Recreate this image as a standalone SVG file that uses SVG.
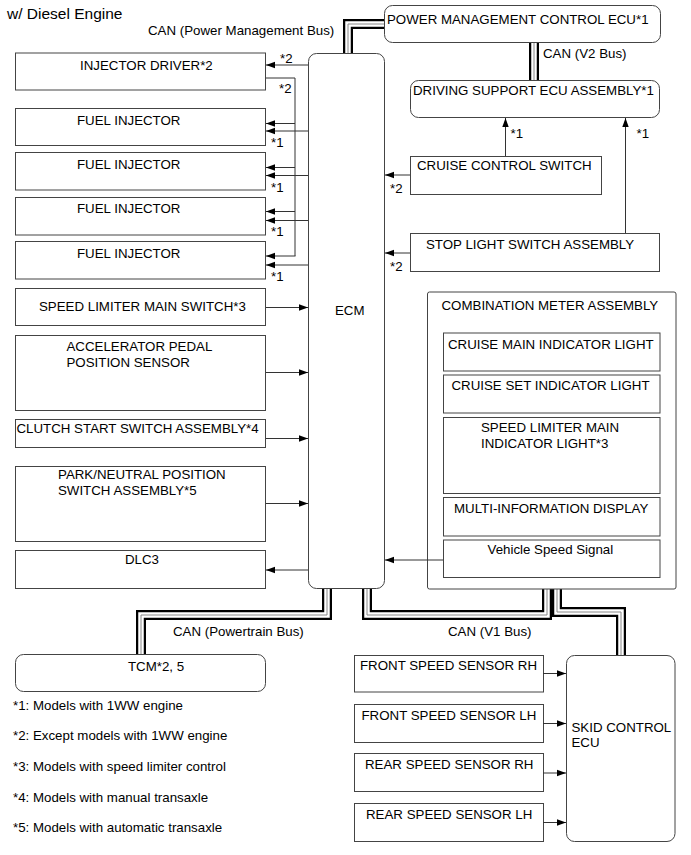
<svg xmlns="http://www.w3.org/2000/svg" width="691" height="855" viewBox="0 0 691 855">
<defs>
<marker id="ah" markerUnits="userSpaceOnUse" markerWidth="10" markerHeight="8" refX="9" refY="4" orient="auto">
<path d="M0,0.8 L9,4 L0,7.2 Z" fill="#000"/>
</marker>
<style>
text{font-family:"Liberation Sans",Arial,sans-serif;font-size:13.3px;fill:#000}
.title{font-size:15.5px}
.box{fill:#fff;stroke:#444;stroke-width:1}
.ln{fill:none;stroke:#333;stroke-width:1}
.ar{fill:none;stroke:#333;stroke-width:1;marker-end:url(#ah)}
.b1{fill:none;stroke:#000;stroke-width:10}
.b2{fill:none;stroke:#fff;stroke-width:5.5}
.b3{fill:none;stroke:#888;stroke-width:1}
</style>
</defs>
<rect width="691" height="855" fill="#fff"/>
<text class="title" x="7" y="19">w/ Diesel Engine</text>

<g id="buses">
<g id="bus-pm"><polyline class="b1" points="348,56 348,24 386,24"/><polyline class="b2" points="348,56 348,24 386,24"/><polyline class="b3" points="348,56 348,24 386,24"/></g>
<g id="bus-v2"><polyline class="b1" points="534,41 534,82"/><polyline class="b2" points="534,41 534,82"/><polyline class="b3" points="534,41 534,82"/></g>
<g id="bus-pt"><polyline class="b1" points="327,586 327,615 141,615 141,656"/><polyline class="b2" points="327,586 327,615 141,615 141,656"/><polyline class="b3" points="327,586 327,615 141,615 141,656"/></g>
<g id="bus-v1a"><polyline class="b1" points="367,586 367,615 547,615 547,588"/><polyline class="b2" points="367,586 367,615 547,615 547,588"/><polyline class="b3" points="367,586 367,615 547,615 547,588"/></g>
<g id="bus-v1b"><polyline class="b1" points="557,588 557,612 621,612 621,657"/><polyline class="b2" points="557,588 557,612 621,612 621,657"/><polyline class="b3" points="557,588 557,612 621,612 621,657"/></g>
</g>

<text x="148" y="35">CAN (Power Management Bus)</text>
<text x="543" y="58">CAN (V2 Bus)</text>
<text x="173" y="636">CAN (Powertrain Bus)</text>
<text x="448" y="636">CAN (V1 Bus)</text>

<g id="ecm"><rect class="box" x="308.5" y="53.5" width="76" height="535" rx="8"/><text x="335" y="315">ECM</text></g>

<g id="pm-ecu"><rect class="box" x="384.5" y="5.5" width="276" height="37" rx="8"/><text x="387" y="24">POWER MANAGEMENT CONTROL ECU*1</text></g>
<g id="ds-ecu"><rect class="box" x="410.5" y="80.5" width="249" height="37" rx="8"/><text x="413" y="94.5">DRIVING SUPPORT ECU ASSEMBLY*1</text></g>
<g id="cruise-sw"><rect class="box" x="410.5" y="156.5" width="191" height="38"/><text x="417" y="170">CRUISE CONTROL SWITCH</text></g>
<g id="stop-sw"><rect class="box" x="410.5" y="233.5" width="249" height="38"/><text x="426" y="248.5">STOP LIGHT SWITCH ASSEMBLY</text></g>

<g id="inj-drv"><rect class="box" x="15.5" y="53" width="250" height="37"/><text x="80" y="70">INJECTOR DRIVER*2</text></g>
<g id="inj1"><rect class="box" x="15.5" y="108.5" width="250" height="37"/><text x="77" y="125">FUEL INJECTOR</text></g>
<g id="inj2"><rect class="box" x="15.5" y="152.5" width="250" height="37.5"/><text x="77" y="169">FUEL INJECTOR</text></g>
<g id="inj3"><rect class="box" x="15.5" y="197.5" width="250" height="37.5"/><text x="77" y="213">FUEL INJECTOR</text></g>
<g id="inj4"><rect class="box" x="15.5" y="241.5" width="250" height="37.5"/><text x="77" y="258">FUEL INJECTOR</text></g>
<g id="spd-lim-sw"><rect class="box" x="15.5" y="288.5" width="250" height="37"/><text x="39" y="310.5">SPEED LIMITER MAIN SWITCH*3</text></g>
<g id="accel"><rect class="box" x="15.5" y="335.5" width="250" height="75"/><text x="66.5" y="350.5">ACCELERATOR PEDAL</text><text x="66.5" y="366.5">POSITION SENSOR</text></g>
<g id="clutch"><rect class="box" x="15.5" y="419.5" width="250" height="28"/><text x="16.5" y="433">CLUTCH START SWITCH ASSEMBLY*4</text></g>
<g id="pnp"><rect class="box" x="15.5" y="466.5" width="250" height="75"/><text x="58" y="479">PARK/NEUTRAL POSITION</text><text x="58" y="495">SWITCH ASSEMBLY*5</text></g>
<g id="dlc3"><rect class="box" x="15.5" y="550.5" width="250" height="38"/><text x="125" y="563.5">DLC3</text></g>

<g id="meter"><rect class="box" x="427.5" y="292" width="248.5" height="297" rx="2"/><text x="441.5" y="309.5">COMBINATION METER ASSEMBLY</text>
<rect class="box" x="443.5" y="333" width="216.5" height="38"/><text x="448" y="348.5">CRUISE MAIN INDICATOR LIGHT</text>
<rect class="box" x="443.5" y="375" width="216.5" height="38"/><text x="451.5" y="390">CRUISE SET INDICATOR LIGHT</text>
<rect class="box" x="443.5" y="417.5" width="216.5" height="76"/><text x="481" y="431.5">SPEED LIMITER MAIN</text><text x="481" y="448">INDICATOR LIGHT*3</text>
<rect class="box" x="443.5" y="497.5" width="216.5" height="38.5"/><text x="454" y="512.5">MULTI-INFORMATION DISPLAY</text>
<rect class="box" x="443.5" y="540" width="216.5" height="37.5"/><text x="487.5" y="554">Vehicle Speed Signal</text>
</g>

<g id="tcm"><rect class="box" x="15.5" y="654.5" width="250" height="37" rx="8"/><text x="128" y="670.5">TCM*2, 5</text></g>
<g id="skid"><rect class="box" x="566.5" y="655.5" width="108.5" height="186" rx="8"/><text x="571.5" y="731.5">SKID CONTROL</text><text x="571.5" y="746.5">ECU</text></g>
<g id="fr-rh"><rect class="box" x="354.5" y="655.5" width="189" height="36.5"/><text x="360" y="670">FRONT SPEED SENSOR RH</text></g>
<g id="fr-lh"><rect class="box" x="354.5" y="704.5" width="189" height="38"/><text x="361.5" y="719.5">FRONT SPEED SENSOR LH</text></g>
<g id="rr-rh"><rect class="box" x="354.5" y="753.5" width="189" height="38"/><text x="365" y="769">REAR SPEED SENSOR RH</text></g>
<g id="rr-lh"><rect class="box" x="354.5" y="803.5" width="189" height="38"/><text x="366" y="819">REAR SPEED SENSOR LH</text></g>

<g id="connectors">
<line class="ar" x1="308" y1="65" x2="266" y2="65"/>
<polyline class="ln" points="266,78 295,78 295,256"/>
<line class="ar" x1="295" y1="123.5" x2="266" y2="123.5"/>
<line class="ar" x1="295" y1="167.5" x2="266" y2="167.5"/>
<line class="ar" x1="295" y1="211.5" x2="266" y2="211.5"/>
<line class="ar" x1="295.5" y1="256" x2="266" y2="256"/>
<line class="ar" x1="308" y1="131" x2="266" y2="131"/>
<line class="ar" x1="308" y1="175.5" x2="266" y2="175.5"/>
<line class="ar" x1="308" y1="220.5" x2="266" y2="220.5"/>
<line class="ar" x1="308" y1="265" x2="266" y2="265"/>
<line class="ar" x1="266" y1="307.5" x2="308" y2="307.5"/>
<line class="ar" x1="266" y1="372.5" x2="308" y2="372.5"/>
<line class="ar" x1="266" y1="438.5" x2="308" y2="438.5"/>
<line class="ar" x1="266" y1="503.5" x2="308" y2="503.5"/>
<line class="ar" x1="308" y1="570" x2="266" y2="570"/>
<line class="ar" x1="410" y1="175" x2="385" y2="175"/>
<line class="ar" x1="410" y1="253" x2="385" y2="253"/>
<line class="ar" x1="505.5" y1="156" x2="505.5" y2="118"/>
<line class="ar" x1="625.5" y1="233" x2="625.5" y2="118"/>
<line class="ar" x1="443" y1="560" x2="385" y2="560"/>
<line class="ar" x1="543" y1="673.5" x2="566" y2="673.5"/>
<line class="ar" x1="543" y1="723.5" x2="566" y2="723.5"/>
<line class="ar" x1="543" y1="773" x2="566" y2="773"/>
<line class="ar" x1="543" y1="822.5" x2="566" y2="822.5"/>
</g>

<g id="conn-labels">
<text x="280" y="63">*2</text>
<text x="279" y="93">*2</text>
<text x="271" y="147">*1</text>
<text x="271" y="192">*1</text>
<text x="271" y="236">*1</text>
<text x="271" y="281">*1</text>
<text x="510.5" y="138">*1</text>
<text x="636.5" y="138">*1</text>
<text x="390" y="193">*2</text>
<text x="390" y="271">*2</text>
</g>

<g id="notes">
<text x="13" y="710">*1: Models with 1WW engine</text>
<text x="13" y="740">*2: Except models with 1WW engine</text>
<text x="13" y="771">*3: Models with speed limiter control</text>
<text x="13" y="802">*4: Models with manual transaxle</text>
<text x="13" y="832">*5: Models with automatic transaxle</text>
</g>
</svg>
